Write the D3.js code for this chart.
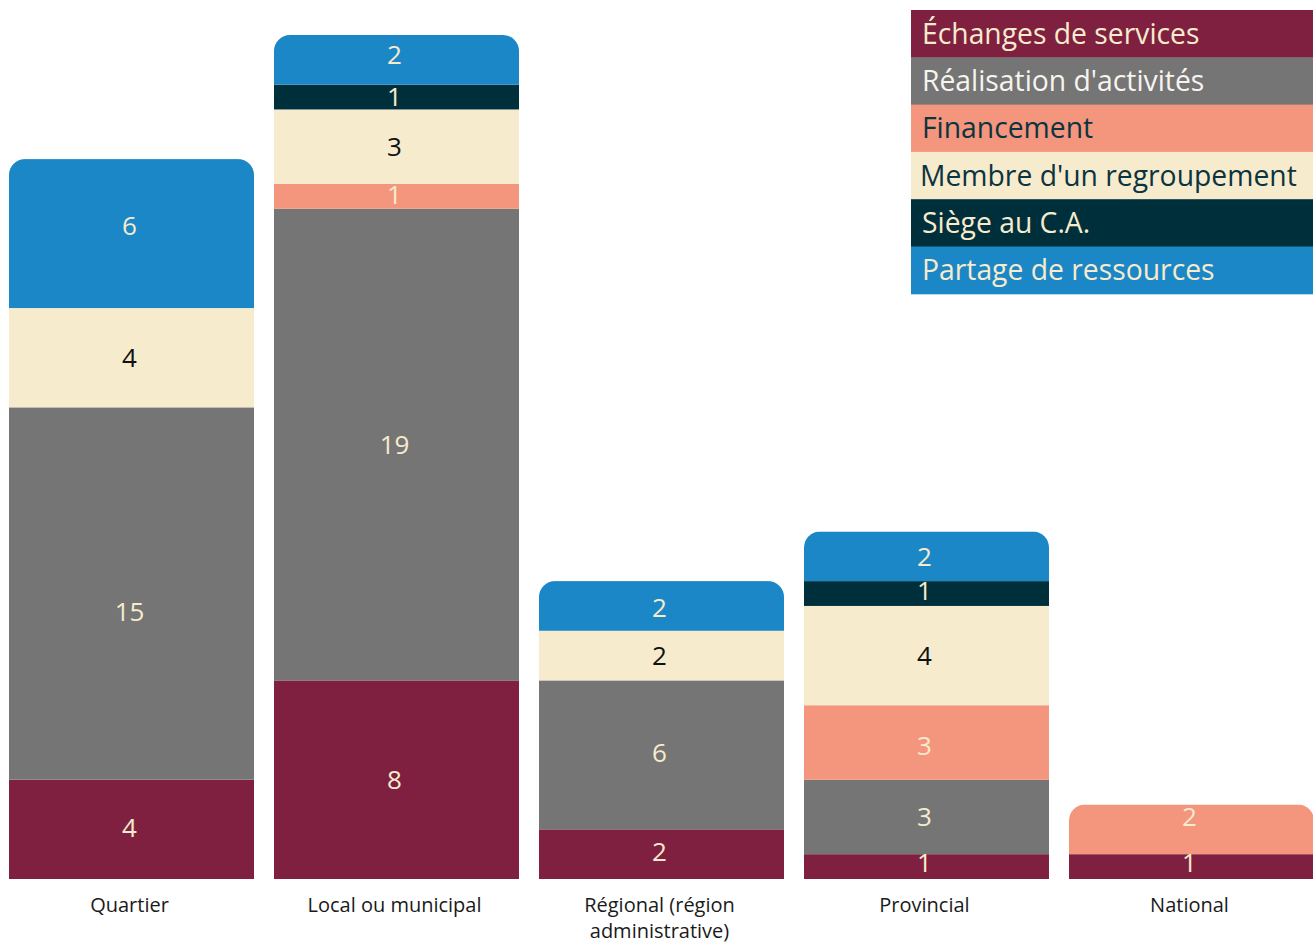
<!DOCTYPE html>
<html>
<head>
<meta charset="utf-8">
<script src="https://cdn.jsdelivr.net/npm/d3@7"></script>
<style>
  body { margin: 0; background: #fff; }
  text { font-family: "Open Sans", "Noto Sans", sans-serif; }
</style>
</head>
<body>
<script>
// categories et series
var categories = ["Quartier", "Local ou municipal", "Régional (région administrative)", "Provincial", "National"];
var series = ["Échanges de services", "Réalisation d'activités", "Financement", "Membre d'un regroupement", "Siège au C.A.", "Partage de ressources"];

var echanges    = [4, 8, 2, 1, 1];
var realisation = [15, 19, 6, 3, 0];
var financement = [0, 1, 0, 3, 2];
var membre      = [4, 3, 2, 4, 0];
var siege       = [0, 1, 0, 1, 0];
var partage     = [6, 2, 2, 2, 0];

var valeurs = [echanges, realisation, financement, membre, siege, partage];

var couleurs        = ["#7f2040", "#757575", "#f4957d", "#f7ebcd", "#002f3c", "#1b87c6"];
var couleursTexte   = ["#f7ebcd", "#f7ebcd", "#f7ebcd", "#111111", "#f7ebcd", "#f7ebcd"];
var couleursLegende = ["#f7ebcd", "#f7f4ee", "#0b3440", "#0b3440", "#f7ebcd", "#f7ebcd"];

// petits decalages verticaux des etiquettes (en px), comme dans l'original
var decalages = {
    "Quartier|Partage de ressources": -8,
    "Quartier|Réalisation d'activités": 18,
    "Quartier|Échanges de services": -2,
    "Local ou municipal|Partage de ressources": -5,
    "Local ou municipal|Financement": -2,
    "Local ou municipal|Siège au C.A.": 0,
    "Régional (région administrative)|Partage de ressources": 2,
    "Régional (région administrative)|Réalisation d'activités": -2,
    "Régional (région administrative)|Échanges de services": -3,
    "Provincial|Siège au C.A.": -3,
    "Provincial|Financement": 3,
    "Provincial|Échanges de services": -4,
    "National|Financement": -13,
    "National|Échanges de services": -4
};

var largeur = 1313, hauteur = 944;

var svg = d3.select("body").append("svg")
    .attr("width", largeur)
    .attr("height", hauteur);

var x = d3.scaleBand()
    .domain(categories)
    .range([9, 1314])
    .paddingInner(20/265)
    .paddingOuter(0);

var y = d3.scaleLinear()
    .domain([0, 34])
    .range([879, 35]);

// tableau pour d3.stack
var table = categories.map(function(c, i) {
    var ligne = {categorie: c};
    series.forEach(function(s, j) { ligne[s] = valeurs[j][i]; });
    return ligne;
});

var pile = d3.stack().keys(series)(table);

// clip arrondi en haut de chaque barre
var rayon = 16;
var defs = svg.append("defs");
table.forEach(function(d, i) {
    var total = d3.sum(series, function(s) { return d[s]; });
    var x0 = x(d.categorie), x1 = x0 + x.bandwidth();
    var yt = y(total), yb = y(0);
    var p = d3.path();
    p.moveTo(x0, yb);
    p.lineTo(x0, yt + rayon);
    p.arcTo(x0, yt, x0 + rayon, yt, rayon);
    p.lineTo(x1 - rayon, yt);
    p.arcTo(x1, yt, x1, yt + rayon, rayon);
    p.lineTo(x1, yb);
    p.closePath();
    defs.append("clipPath").attr("id", "clip" + i)
        .append("path").attr("d", p.toString());
});

var groupes = svg.append("g");
table.forEach(function(d, i) {
    var g = groupes.append("g").attr("clip-path", "url(#clip" + i + ")");
    pile.forEach(function(serie, j) {
        var seg = serie[i];
        if (seg[1] - seg[0] <= 0) return;
        g.append("rect")
            .attr("x", x(d.categorie))
            .attr("y", y(seg[1]))
            .attr("width", x.bandwidth())
            .attr("height", y(seg[0]) - y(seg[1]))
            .style("fill", couleurs[j]);
    });
});

// etiquettes de valeurs
pile.forEach(function(serie, j) {
    serie.forEach(function(seg, i) {
        var v = seg[1] - seg[0];
        if (v <= 0) return;
        var dec = decalages[categories[i] + "|" + series[j]] || 0;
        svg.append("text")
            .attr("x", x(categories[i]) + x.bandwidth()/2 - 2)
            .attr("y", (y(seg[0]) + y(seg[1]))/2 + dec)
            .attr("dy", "0.36em")
            .attr("text-anchor", "middle")
            .style("font-size", "26px")
            .style("fill", couleursTexte[j])
            .text(v);
    });
});

// axe des categories
var axe = svg.append("g").attr("transform", "translate(0,879)")
    .call(d3.axisBottom(x).tickSize(0).tickPadding(0));
axe.select(".domain").remove();
axe.selectAll(".tick text").remove();
axe.selectAll(".tick").each(function(c) {
    var t = d3.select(this).append("text")
        .attr("text-anchor", "middle")
        .attr("x", -2)
        .attr("y", 33)
        .style("font-size", "20px")
        .style("fill", "#1a1a1a");
    var lignes = c === "Régional (région administrative)" ? ["Régional (région", "administrative)"] : [c];
    lignes.forEach(function(l, k) {
        t.append("tspan").attr("x", -2).attr("dy", k === 0 ? 0 : 26).text(l);
    });
});

// legende
var legende = svg.append("g");
var hautLigne = 47.3;
series.forEach(function(s, j) {
    var yl = 10 + j * hautLigne;
    legende.append("rect")
        .attr("x", 911)
        .attr("y", yl)
        .attr("width", largeur - 911)
        .attr("height", hautLigne + 0.5)
        .style("fill", couleurs[j]);
    legende.append("text")
        .attr("x", s === "Membre d'un regroupement" ? 920 : 922)
        .attr("y", yl + hautLigne/2)
        .attr("dy", "0.36em")
        .style("font-size", "28.3px")
        .style("fill", couleursLegende[j])
        .text(s);
});
</script>
</body>
</html>
